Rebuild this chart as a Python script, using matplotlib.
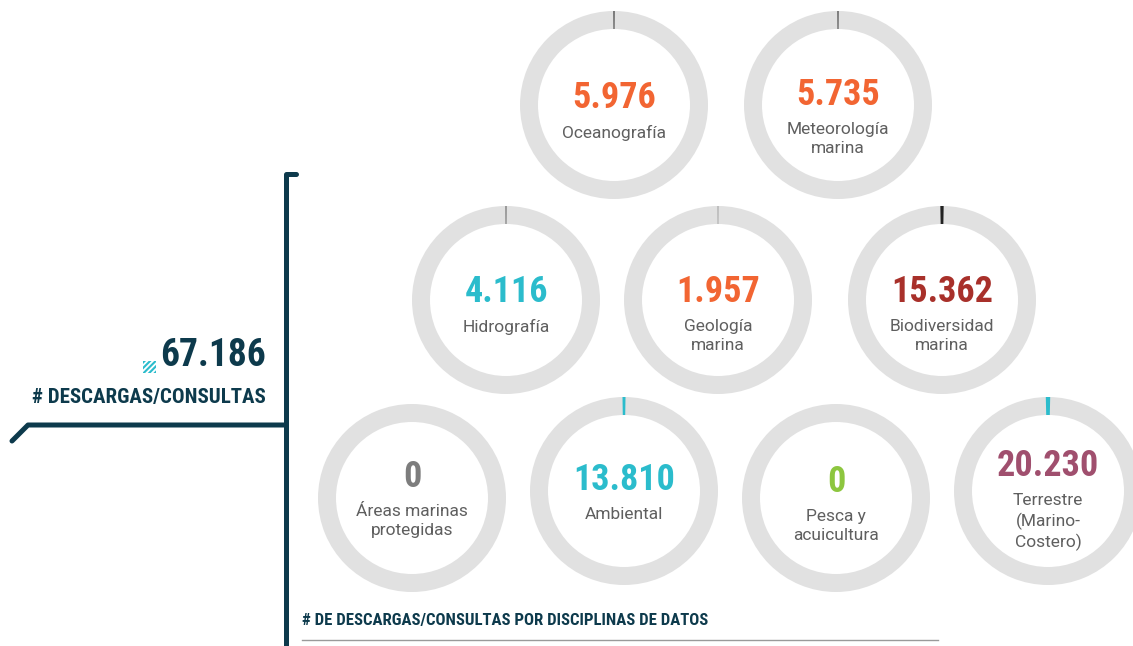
#! /usr/bin/env python3
# Descargas/consultas por disciplina de datos - donut rings

import matplotlib
matplotlib.use('Agg')
import matplotlib.pyplot as plt
from matplotlib.patches import Wedge, Rectangle
from matplotlib import font_manager

# data
disciplinas = ['Oceanografía', 'Meteorología\nmarina', 'Hidrografía', 'Geología\nmarina',
               'Biodiversidad\nmarina', 'Áreas marinas\nprotegidas', 'Ambiental',
               'Pesca y\nacuicultura', 'Terrestre\n(Marino-\nCostero)']
valores = [5976, 5735, 4116, 1957, 15362, 0, 13810, 0, 20230]
total = 67186
total_label = '# DESCARGAS/CONSULTAS'
titulo = '# DE DESCARGAS/CONSULTAS POR DISCIPLINAS DE DATOS'

# layout (pixels, y downwards)
centros = [(614, 105), (838, 105), (506, 300), (718, 300), (942, 300),
           (412, 498), (624, 491), (836, 498), (1048, 491)]
num_y = [98, 95, 292, 292, 292, 477, 480, 482, 466]
num_colores = ['#f26532', '#f26532', '#2bbccc', '#f26532', '#a8302a',
               '#7d7d7d', '#2bbccc', '#8dc63f', '#a04f6e']
tick_colores = ['#444444', '#444444', '#444444', '#444444', '#222222',
                '#444444', '#2bbccc', '#444444', '#2bbccc']
R_out, ancho = 94, 18
k_tick = 1.33e-4  # degrees of arc per download
azul = '#0d3a4c'


def pick(cands, default='DejaVu Sans'):
    names = {f.name for f in font_manager.fontManager.ttflist}
    for c in cands:
        if c in names:
            return c
    return default


narrow = pick(['Liberation Sans Narrow', 'Roboto Condensed', 'Noto Sans Condensed',
               'DejaVu Sans Condensed', 'Liberation Sans'])
light = pick(['Roboto', 'Lato', 'Open Sans', 'Noto Sans'])

plt.rcParams['hatch.linewidth'] = 1.5

fig = plt.figure(figsize=(11.33, 6.46), dpi=100)
ax = fig.add_axes([0, 0, 1, 1])
ax.set_xlim(0, 1133)
ax.set_ylim(646, 0)
ax.set_aspect('equal')
ax.axis('off')

for i, nombre in enumerate(disciplinas):
    cx, cy = centros[i]
    ax.add_patch(Wedge((cx, cy), R_out, 0, 360, width=ancho, color='#e1e1e1', lw=0))
    a = valores[i] * k_tick
    if a > 0:
        ax.add_patch(Wedge((cx, cy), R_out, 270 - a / 2, 270 + a / 2, width=ancho,
                           color=tick_colores[i], lw=0))
    txt = f'{valores[i]:,}'.replace(',', '.')
    ax.text(cx, num_y[i], txt, ha='center', va='center', fontsize=26,
            fontweight='bold', family=narrow, color=num_colores[i])
    ax.text(cx, num_y[i] + 27, nombre, ha='center', va='top', fontsize=12.5,
            family=light, fontweight='normal', color='#5f5f5f', linespacing=1.32)

# left total block
ax.text(266, 355, f'{total:,}'.replace(',', '.'), ha='right', va='center',
        fontsize=27, fontweight='bold', family=narrow, color=azul)
ax.add_patch(Rectangle((143, 361), 13, 12, facecolor='none', edgecolor='#2bbccc',
                       hatch='//////', lw=0))
ax.text(266, 398, total_label, ha='right', va='center', fontsize=15,
        fontweight='bold', family=narrow, color=azul)

# frame lines
ax.plot([296, 286, 286], [174, 174, 646], color=azul, lw=3.6,
        solid_capstyle='round', solid_joinstyle='round')
ax.plot([12, 28, 286], [441, 425, 425], color=azul, lw=3.6,
        solid_capstyle='round', solid_joinstyle='round')

# bottom title
ax.text(302, 620, titulo, ha='left', va='center', fontsize=12.1,
        fontweight='bold', family=narrow, color=azul)
ax.plot([302, 938], [640, 640], color='#9a9a9a', lw=1)

fig.savefig('out.png', dpi=100, facecolor='white')
